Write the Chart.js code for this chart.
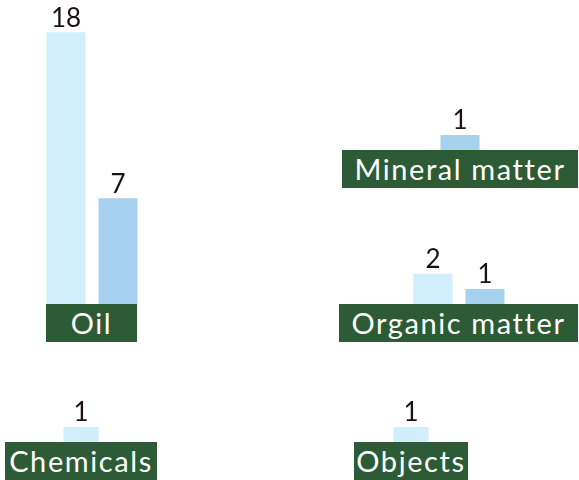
<!DOCTYPE html>
<html>
<head>
<meta charset="utf-8">
<script src="https://cdn.jsdelivr.net/npm/chart.js@4"></script>
<style>
  body { margin: 0; background: #fff; width: 579px; height: 480px; overflow: hidden; position: relative; font-family: Lato, sans-serif; }
  .group { position: absolute; }
  .bars { position: relative; width: 104px; margin-left: calc((100% - 104px) / 2); }
  .label { background: #2c5b36; color: #fff; text-align: center; font-size: 29px; height: 38px; line-height: 38px; letter-spacing: 1.6px; white-space: nowrap; }
</style>
</head>
<body>
<script>
// categories and values
const categories = ["Oil", "Mineral matter", "Organic matter", "Chemicals", "Objects"];
const series1 = [18, null, 2, 1, 1];
const series2 = [7, 1, 1, null, null];

// placement of each small panel (box left, baseline top, box width, bar area height, bar width)
const panels = [
  { left: 46, base: 304, width: 91, area: 300, bar: 39 },
  { left: 342, base: 150, width: 236, area: 140, bar: 39 },
  { left: 339, base: 304, width: 239, area: 104, bar: 39 },
  { left: 5, base: 442, width: 152, area: 42, bar: 35 },
  { left: 354, base: 442, width: 114, area: 42, bar: 35 }
];
const pxPerUnit = 15.1;

const valueLabels = {
  id: 'valueLabels',
  afterDatasetsDraw(chart) {
    const ctx = chart.ctx;
    ctx.save();
    ctx.font = '26px Lato, sans-serif';
    ctx.fillStyle = '#1c1016';
    ctx.textAlign = 'center';
    ctx.textBaseline = 'bottom';
    chart.data.datasets.forEach((ds, i) => {
      chart.getDatasetMeta(i).data.forEach((el, j) => {
        const v = ds.data[j];
        if (v === null || v === undefined) return;
        ctx.fillText(v, el.x, el.y - 1);
      });
    });
    ctx.restore();
  }
};

categories.forEach((cat, i) => {
  const p = panels[i];
  const group = document.createElement('div');
  group.className = 'group';
  group.style.left = p.left + 'px';
  group.style.top = (p.base - p.area) + 'px';
  group.style.width = p.width + 'px';

  const wrap = document.createElement('div');
  wrap.className = 'bars';
  wrap.style.height = p.area + 'px';
  const canvas = document.createElement('canvas');
  wrap.appendChild(canvas);
  group.appendChild(wrap);

  const label = document.createElement('div');
  label.className = 'label';
  label.textContent = cat;
  group.appendChild(label);
  document.body.appendChild(group);

  new Chart(canvas, {
    type: 'bar',
    data: {
      labels: [cat],
      datasets: [
        { data: [series1[i]], backgroundColor: '#d0eefc' },
        { data: [series2[i]], backgroundColor: '#a6d2f0' }
      ]
    },
    options: {
      responsive: true,
      maintainAspectRatio: false,
      animation: false,
      skipNull: true,
      categoryPercentage: 1,
      barPercentage: 0.75,
      maxBarThickness: p.bar,
      layout: { padding: 0 },
      scales: {
        x: { display: false },
        y: { display: false, min: 0, max: p.area / pxPerUnit }
      },
      plugins: { legend: { display: false }, tooltip: { enabled: false } }
    },
    plugins: [valueLabels]
  });
});
</script>
</body>
</html>
